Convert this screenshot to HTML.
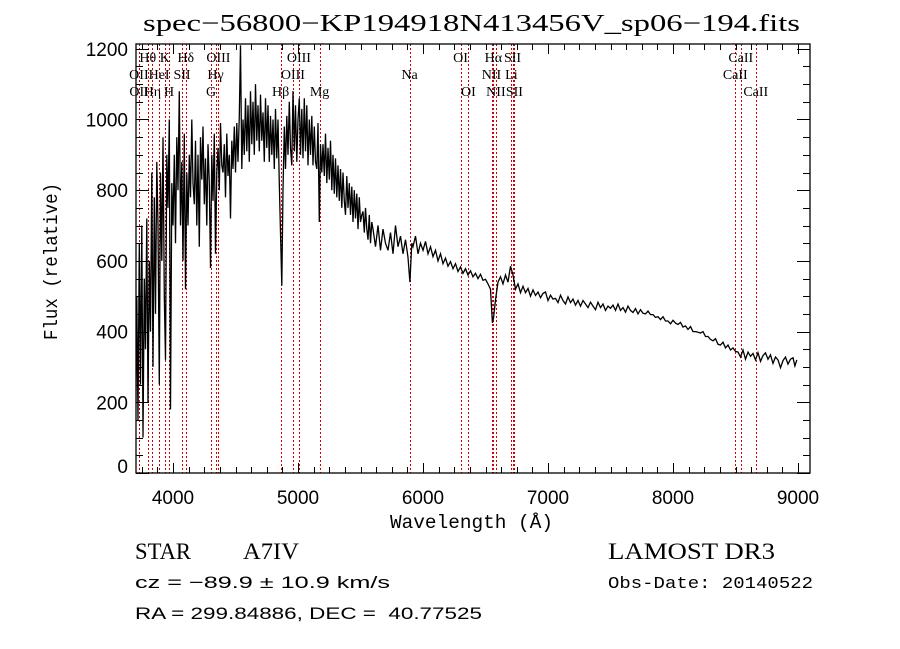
<!DOCTYPE html>
<html><head><meta charset="utf-8"><style>
html,body{margin:0;padding:0;background:#fff;}
svg{display:block;}
</style></head><body>
<svg id="chart" width="900" height="649" viewBox="0 0 900 649" xmlns="http://www.w3.org/2000/svg">
<rect x="0" y="0" width="900" height="649" fill="#fff"/>
<text x="143" y="31" font-family="Liberation Serif, serif" font-size="24" textLength="657" lengthAdjust="spacingAndGlyphs">spec−56800−KP194918N413456V_sp06−194.fits</text>
<defs><clipPath id="plotclip"><rect x="136" y="44" width="674" height="429"/></clipPath></defs>
<g id="lines"></g>
<g id="labels"></g>
<g clip-path="url(#plotclip)"><path id="spec" fill="none" stroke="#000" stroke-width="1.3" stroke-linejoin="miter"/></g>
<rect x="136" y="44" width="674" height="429" fill="none" stroke="#000" stroke-width="1.3"/>
<g id="ticks"></g>
<g id="ticklabels" font-family="Liberation Sans, sans-serif" font-size="19"></g>
<text x="390" y="528" font-family="Liberation Mono, monospace" font-size="19" textLength="163" lengthAdjust="spacingAndGlyphs">Wavelength (Å)</text>
<text transform="translate(57,340) rotate(-90)" x="0" y="0" font-family="Liberation Mono, monospace" font-size="19" textLength="157" lengthAdjust="spacingAndGlyphs">Flux (relative)</text>
<text x="135" y="559" font-family="Liberation Serif, serif" font-size="23" textLength="56" lengthAdjust="spacingAndGlyphs">STAR</text>
<text x="243" y="559" font-family="Liberation Serif, serif" font-size="23" textLength="56" lengthAdjust="spacingAndGlyphs">A7IV</text>
<text x="608" y="559" font-family="Liberation Serif, serif" font-size="23" textLength="167" lengthAdjust="spacingAndGlyphs">LAMOST DR3</text>
<text x="135" y="588" font-family="Liberation Sans, sans-serif" font-size="17" textLength="255" lengthAdjust="spacingAndGlyphs">cz = −89.9 ± 10.9 km/s</text>
<text x="608" y="588" font-family="Liberation Mono, monospace" font-size="17" textLength="205" lengthAdjust="spacingAndGlyphs">Obs-Date: 20140522</text>
<text x="135" y="619" font-family="Liberation Sans, sans-serif" font-size="17" textLength="347" lengthAdjust="spacingAndGlyphs" xml:space="preserve">RA = 299.84886, DEC =  40.77525</text>
</svg>
<script>
const waveBlue = [3700,3710,3720,3730,3740,3750,3760,3770,3780,3790,3800,3810,3820,3830,3840,3850,3860,3870,3880,3890,3900,3910,3920,3930,3940,3950,3960,3970,3980,3990,4000,4010,4020,4030,4040,4050,4060,4070,4080,4090,4100,4110,4120,4130,4140,4150,4160,4170,4180,4190,4200,4210,4220,4230,4240,4250,4260,4270,4280,4290,4300,4310,4320,4330,4340,4350,4360,4370,4380,4390,4400,4410,4420,4430,4440,4450,4460,4470,4480,4490,4500,4510,4520,4530,4540,4550,4560,4570,4580,4590,4600,4610,4620,4630,4640,4650,4660,4670,4680,4690,4700,4710,4720,4730,4740,4750,4760,4770,4780,4790,4800,4810,4820,4830,4840,4850,4860,4870,4880,4890,4900,4910,4920,4930,4940,4950,4960,4970,4980,4990,5000,5010,5020,5030,5040,5050,5060,5070,5080,5090,5100,5110,5120,5130,5140,5150,5160,5170,5180,5190,5200,5210,5220,5230,5240,5250,5260,5270,5280,5290,5300,5310,5320,5330,5340,5350,5360,5370,5380,5390,5400,5410,5420,5430,5440,5450,5460,5470,5480,5490,5500,5510,5520,5530,5540,5550,5560,5570,5580,5590];
const fluxBlue = [60,500,150,650,250,700,100,550,350,720,
200,600,400,850,300,780,450,880,700,250,
850,600,950,500,320,900,750,1000,180,820,
700,900,650,950,800,1080,700,880,600,960,
520,850,700,900,780,1000,820,760,940,700,
900,640,950,830,980,760,890,700,930,820,
580,900,770,960,620,850,920,800,990,870,
850,930,780,960,840,900,720,940,860,980,
850,990,880,1010,1210,860,1000,900,1060,910,
1040,880,1080,930,1050,900,1100,940,1040,910,
1070,940,1020,880,1060,920,1040,880,1010,900,
1000,860,1030,890,1000,820,680,530,800,980,
860,1010,900,1050,920,870,1080,910,1040,880,
1000,1060,900,1030,890,1060,910,1040,870,1000,
900,1010,870,980,880,860,990,710,930,850,
930,840,960,820,920,830,940,800,900,790,
890,780,870,770,860,750,850,770,730,840,
750,820,730,810,710,800,720,790,690,780,
710,730,740,680,750,690,660,730,650,710];
const waveRed = [5600,5620,5640,5660,5680,5700,5720,5740,5760,5780,5800,5820,5840,5860,5880,5895,5910,5920,5940,5960,5980,6000,6020,6040,6060,6080,6100,6120,6140,6160,6180,6200,6220,6240,6260,6280,6300,6320,6340,6360,6380,6400,6420,6440,6460,6480,6500,6520,6540,6555,6565,6580,6600,6620,6640,6660,6680,6700,6720,6740,6760,6780,6800,6820,6840,6860,6880,6900,6920,6940,6960,6980,7000,7020,7040,7060,7080,7100,7120,7140,7160,7180,7200,7220,7240,7260,7280,7300,7320,7340,7360,7380,7400,7420,7440,7460,7480,7500,7520,7540,7560,7580,7600,7620,7640,7660,7680,7700,7720,7740,7760,7780,7800,7820,7840,7860,7880,7900,7920,7940,7960,7980,8000,8020,8040,8060,8080,8100,8120,8140,8160,8180,8200,8220,8240,8260,8280,8300,8320,8340,8360,8380,8400,8420,8440,8460,8480,8500,8520,8540,8560,8580,8600,8620,8640,8660,8680,8700,8720,8740,8760,8780,8800,8820,8840,8860,8880,8900,8920,8940,8960,8975,8990];
const fluxRed = [690,640,700,630,690,650,630,680,620,700,640,670,620,660,610,540,650,640,670,620,650,630,655,620,640,612,630,600,620,592,608,585,598,578,592,570,583,565,578,560,572,555,565,550,562,545,548,535,520,425,440,490,540,555,535,560,540,585,560,520,535,510,528,510,522,500,518,502,512,496,508,512,488,503,492,494,482,503,488,478,498,482,492,475,488,472,488,478,468,483,472,462,483,468,478,460,472,466,475,460,478,460,468,455,472,460,454,465,450,462,452,450,458,448,448,440,442,434,442,430,430,422,432,424,420,426,413,416,406,414,400,400,398,396,400,386,386,378,374,380,364,362,370,354,362,348,354,344,342,328,348,322,342,330,338,320,340,316,332,340,322,334,310,328,320,298,318,328,308,322,326,303,320,240,20];
const lineWave = [3727,3798,3835,3889,3934,3968,4072,4102,4304,4340,4363,4861,4959,5007,5173,5893,6300,6363,6548,6563,6583,6707,6716,6731,8498,8542,8662];
const labelText = ["Hθ","K","Hδ","OIII","OIII","OI","Hα","SII","CaII","OII","HeI","SII","Hγ","OIII","Na","NII","Li","CaII","OII","Hη","H","G","Hβ","Mg","OI","NII","SII","CaII"];
const labelWave = [3798,3934,4102,4363,5007,6300,6563,6716,8542,3727,3889,4072,4340,4959,5893,6548,6707,8498,3729,3835,3968,4304,4861,5173,6363,6583,6731,8662];
const labelRow = [1,1,1,1,1,1,1,1,1,2,2,2,2,2,2,2,2,2,3,3,3,3,3,3,3,3,3,3];
const xTicks = [4000,5000,6000,7000,8000,9000];
const yTicks = [0,200,400,600,800,1000,1200];

const X0=136,X1=810,Y0=473,Y1=44, WMIN=3704, WMAX=9096, FMIN=0, FMAX=1213.5;
function xs(w){return X0+(w-WMIN)/(WMAX-WMIN)*(X1-X0);}
function ys(f){return Y0-(f-FMIN)/(FMAX-FMIN)*(Y0-Y1);}
const NS="http://www.w3.org/2000/svg";

let d="";
const W=waveBlue.concat(waveRed), F=fluxBlue.concat(fluxRed);
for(let i=0;i<W.length;i++){d+=(i?"L":"M")+xs(W[i]).toFixed(1)+" "+ys(F[i]).toFixed(1);}
document.getElementById("spec").setAttribute("d",d);

const lg=document.getElementById("lines");
lineWave.forEach(w=>{
  const l=document.createElementNS(NS,"line");
  
  
  const x=Math.round(xs(w))+0.5;
  l.setAttribute("x1",x);l.setAttribute("x2",x);l.setAttribute("y1",Y1);l.setAttribute("y2",Y0);
  l.setAttribute("stroke","#cc0000");l.setAttribute("stroke-width","1");l.setAttribute("stroke-dasharray","2 2");
  l.setAttribute("shape-rendering","crispEdges");
  lg.appendChild(l);
});
const lb=document.getElementById("labels");
const rowY=[0,62,79,96];
labelText.forEach((t,i)=>{
  const e=document.createElementNS(NS,"text");
  
  
  e.setAttribute("x",xs(labelWave[i]).toFixed(1));e.setAttribute("y",rowY[labelRow[i]]);
  e.setAttribute("text-anchor","middle");e.setAttribute("font-family","Liberation Serif, serif");e.setAttribute("font-size","14");
  e.textContent=t;lb.appendChild(e);
});

const tg=document.getElementById("ticks"), tl=document.getElementById("ticklabels");
function tick(x1,y1,x2,y2){const l=document.createElementNS(NS,"line");
  
  
  l.setAttribute("x1",x1);l.setAttribute("y1",y1);l.setAttribute("x2",x2);l.setAttribute("y2",y2);
  l.setAttribute("stroke","#000");l.setAttribute("stroke-width","1");tg.appendChild(l);}
for(let w=3750;w<=9100;w+=125){
  if(w<WMIN||w>WMAX) continue;
  const x=Math.round(xs(w))+0.5; const major=(w%1000===0); const L=major?10:6;
  tick(x,Y0,x,Y0-L); tick(x,Y1,x,Y1+L);
}
for(let f=0;f<=1200;f+=50){
  const y=Math.round(ys(f))+0.5; const major=(f%200===0); const L=major?13:7;
  tick(X0,y,X0+L,y); tick(X1,y,X1-L,y);
}
xTicks.forEach(w=>{const e=document.createElementNS(NS,"text");
  
  
  e.setAttribute("x",xs(w).toFixed(1));e.setAttribute("y",504);e.setAttribute("text-anchor","middle");
  e.textContent=w;tl.appendChild(e);});
yTicks.forEach(f=>{const e=document.createElementNS(NS,"text");
  
  
  e.setAttribute("x",128);e.setAttribute("y",f===0?473:ys(f)+7);e.setAttribute("text-anchor","end");
  e.textContent=f;tl.appendChild(e);});
</script>
</body></html>
